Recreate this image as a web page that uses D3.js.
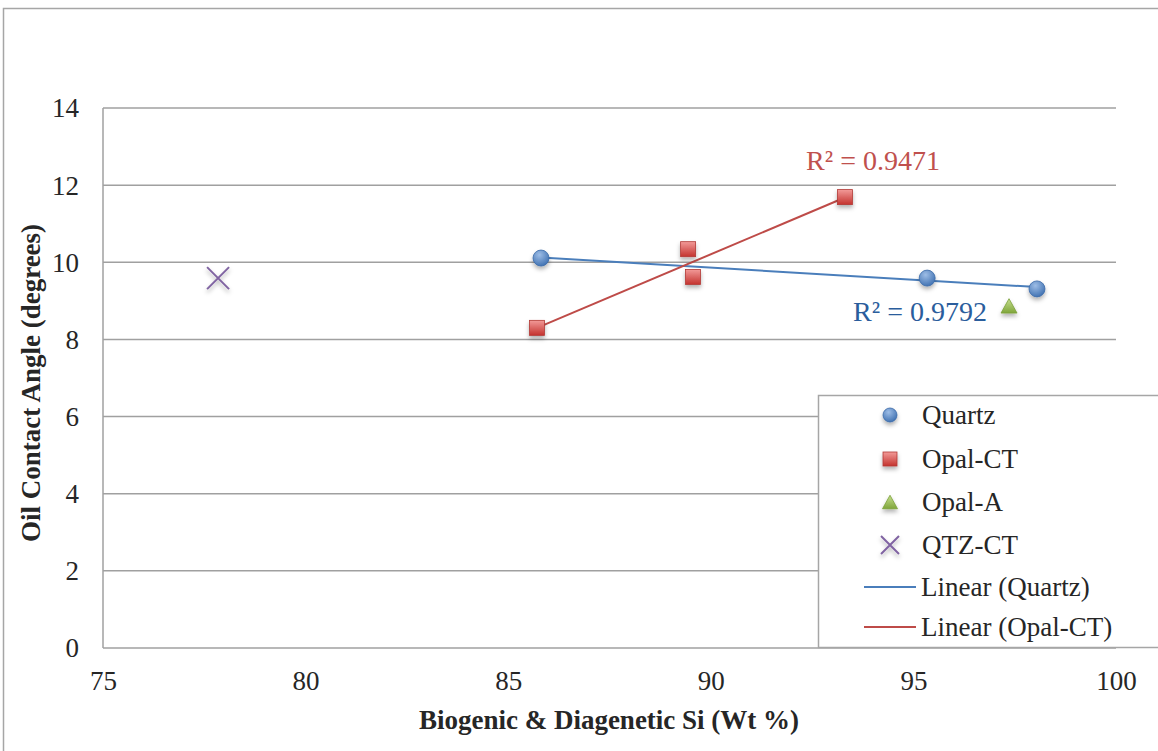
<!DOCTYPE html>
<html>
<head>
<meta charset="utf-8">
<script src="https://cdn.jsdelivr.net/npm/d3@7"></script>
<style>
  html, body { margin: 0; padding: 0; background: #fff; }
  svg { display: block; }
  text { font-family: "Liberation Serif", "DejaVu Serif", serif; }
</style>
</head>
<body>
<svg id="chart" width="1158" height="751"></svg>
<script>
// Silica content vs. oil contact angle, grouped by silica phase
const quartzX = [85.81, 95.34, 98.05];
const quartzY = [10.11, 9.59, 9.31];
const opalCTX = [85.71, 89.44, 89.56, 93.31];
const opalCTY = [8.30, 10.34, 9.62, 11.69];
const opalAX = [97.36];
const opalAY = [8.87];
const qtzCTX = [77.84];
const qtzCTY = [9.59];

const xTicks = [75, 80, 85, 90, 95, 100];
const yTicks = [0, 2, 4, 6, 8, 10, 12, 14];

const r2Quartz = "R² = 0.9792";
const r2OpalCT = "R² = 0.9471";

const legendLabels = ["Quartz", "Opal-CT", "Opal-A", "QTZ-CT", "Linear (Quartz)", "Linear (Opal-CT)"];

const svg = d3.select("#chart");

const plot = { left: 103, right: 1116, top: 108, bottom: 648 };
const x = d3.scaleLinear().domain([75, 100]).range([plot.left, plot.right]);
const y = d3.scaleLinear().domain([0, 14]).range([plot.bottom, plot.top]);

const colors = {
  quartz: "#4f81bd", opalCT: "#c0504d", opalA: "#9bbb59", qtzCT: "#8064a2",
  quartzLine: "#4a7ebb", opalLine: "#be4b48"
};
const textColor = "#262626";
const fs = 27;

// defs: gradients and soft drop shadow for markers
const defs = svg.append("defs");
const shadow = defs.append("filter").attr("id", "shadow")
  .attr("x", "-60%").attr("y", "-60%").attr("width", "220%").attr("height", "220%");
shadow.append("feDropShadow").attr("dx", 0).attr("dy", 3).attr("stdDeviation", 2)
  .attr("flood-color", "#000").attr("flood-opacity", 0.3);

function radial(id, light, dark) {
  const g = defs.append("radialGradient").attr("id", id)
    .attr("cx", "40%").attr("cy", "30%").attr("r", "75%");
  g.append("stop").attr("offset", "0%").attr("stop-color", light);
  g.append("stop").attr("offset", "100%").attr("stop-color", dark);
}
function linear(id, light, dark) {
  const g = defs.append("linearGradient").attr("id", id)
    .attr("x1", 0).attr("y1", 0).attr("x2", 0).attr("y2", 1);
  g.append("stop").attr("offset", "0%").attr("stop-color", light);
  g.append("stop").attr("offset", "100%").attr("stop-color", dark);
}
radial("gQuartz", "#9dbde6", "#3d6fb0");
linear("gOpal", "#f29a98", "#c4332f");
linear("gOpalA", "#c6df8e", "#7fa53a");

// outer chart frame
svg.append("rect")
  .attr("x", 3.5).attr("y", 8.5).attr("width", 1170).attr("height", 760)
  .attr("fill", "none").attr("stroke", "#a6a6a6").attr("stroke-width", 1.5);

// horizontal gridlines
svg.append("g").selectAll("line")
  .data(yTicks.filter(d => d > 0))
  .join("line")
  .attr("x1", plot.left).attr("x2", plot.right)
  .attr("y1", d => y(d)).attr("y2", d => y(d))
  .attr("stroke", "#a0a0a0").attr("stroke-width", 1.5);

// plot-area left edge and baseline
svg.append("line")
  .attr("x1", plot.left).attr("x2", plot.left)
  .attr("y1", plot.top).attr("y2", plot.bottom)
  .attr("stroke", "#a0a0a0").attr("stroke-width", 1.5);
svg.append("line")
  .attr("x1", plot.left).attr("x2", plot.right)
  .attr("y1", plot.bottom).attr("y2", plot.bottom)
  .attr("stroke", "#a0a0a0").attr("stroke-width", 1.5);

// axes (labels only)
const xAxis = svg.append("g")
  .attr("transform", `translate(0,${plot.bottom + 33})`)
  .call(d3.axisBottom(x).tickValues(xTicks).tickSize(0).tickPadding(0));
xAxis.select(".domain").remove();
xAxis.selectAll("text").attr("font-size", fs).attr("fill", textColor)
  .attr("font-family", "Liberation Serif").attr("dy", "0.33em");

const yAxis = svg.append("g")
  .attr("transform", `translate(${plot.left - 24},0)`)
  .call(d3.axisLeft(y).tickValues(yTicks).tickSize(0).tickPadding(0));
yAxis.select(".domain").remove();
yAxis.selectAll("text").attr("font-size", fs).attr("fill", textColor)
  .attr("font-family", "Liberation Serif").attr("dy", "0.33em");

// axis titles
svg.append("text")
  .attr("x", 609).attr("y", 729)
  .attr("text-anchor", "middle").attr("font-size", fs).attr("font-weight", "bold")
  .attr("fill", textColor)
  .text("Biogenic & Diagenetic Si (Wt %)");
svg.append("text")
  .attr("transform", `translate(40,383) rotate(-90)`)
  .attr("text-anchor", "middle").attr("font-size", fs).attr("font-weight", "bold")
  .attr("fill", textColor)
  .text("Oil Contact Angle (degrees)");

// least-squares trendline over the series' x-range
function fitLine(xs, ys) {
  const mx = d3.mean(xs), my = d3.mean(ys);
  const sxy = d3.sum(xs, (v, i) => (v - mx) * (ys[i] - my));
  const sxx = d3.sum(xs, v => (v - mx) * (v - mx));
  const b = sxy / sxx, a = my - b * mx;
  const [x0, x1] = d3.extent(xs);
  return [[x0, a + b * x0], [x1, a + b * x1]];
}
const lineGen = d3.line().x(d => x(d[0])).y(d => y(d[1]));

svg.append("path").datum(fitLine(quartzX, quartzY))
  .attr("d", lineGen).attr("fill", "none")
  .attr("stroke", colors.quartzLine).attr("stroke-width", 2);
svg.append("path").datum(fitLine(opalCTX, opalCTY))
  .attr("d", lineGen).attr("fill", "none")
  .attr("stroke", colors.opalLine).attr("stroke-width", 2);

// markers
const zip = (xs, ys) => xs.map((v, i) => [v, ys[i]]);
const markers = svg.append("g");

function drawCircle(g, cx, cy, r) {
  g.append("circle").attr("cx", cx).attr("cy", cy).attr("r", r)
    .attr("fill", "url(#gQuartz)").attr("stroke", "#3a6aa8").attr("stroke-width", 0.8)
    .attr("filter", "url(#shadow)");
}
function drawSquare(g, cx, cy, s) {
  g.append("rect").attr("x", cx - s / 2).attr("y", cy - s / 2)
    .attr("width", s).attr("height", s)
    .attr("fill", "url(#gOpal)").attr("stroke", "#b23a36").attr("stroke-width", 0.8)
    .attr("filter", "url(#shadow)");
}
function drawTriangle(g, cx, cy, s) {
  const h = s * 0.9;
  g.append("path")
    .attr("d", `M${cx},${cy - h / 2} L${cx + s / 2},${cy + h / 2} L${cx - s / 2},${cy + h / 2} Z`)
    .attr("fill", "url(#gOpalA)").attr("stroke", "#7a9f38").attr("stroke-width", 0.8)
    .attr("filter", "url(#shadow)");
}
function drawCross(g, cx, cy, s) {
  const h = s / 2;
  g.append("path")
    .attr("d", `M${cx - h},${cy - h} L${cx + h},${cy + h} M${cx - h},${cy + h} L${cx + h},${cy - h}`)
    .attr("stroke", colors.qtzCT).attr("stroke-width", 2).attr("fill", "none")
    .attr("filter", "url(#shadow)");
}

zip(quartzX, quartzY).forEach(d => drawCircle(markers, x(d[0]), y(d[1]), 8));
zip(opalCTX, opalCTY).forEach(d => drawSquare(markers, x(d[0]), y(d[1]), 15));
zip(opalAX, opalAY).forEach(d => drawTriangle(markers, x(d[0]), y(d[1]), 16));
zip(qtzCTX, qtzCTY).forEach(d => drawCross(markers, x(d[0]), y(d[1]), 22));

// R² annotations
svg.append("text").attr("x", 873).attr("y", 170).attr("text-anchor", "middle")
  .attr("font-size", 28).attr("fill", "#c0504d").text(r2OpalCT);
svg.append("text").attr("x", 920).attr("y", 321).attr("text-anchor", "middle")
  .attr("font-size", 28).attr("fill", "#2a5d9c").text(r2Quartz);

// legend
const lg = svg.append("g");
lg.append("rect").attr("x", 818.5).attr("y", 395.5).attr("width", 360).attr("height", 252)
  .attr("fill", "#fff").attr("stroke", "#a6a6a6").attr("stroke-width", 1.5);

const legendY = [415, 459, 502, 545, 587, 627];
const mx = 890, tx = 922;
drawCircle(lg, mx, legendY[0], 7);
drawSquare(lg, mx, legendY[1], 14);
drawTriangle(lg, mx, legendY[2], 15);
drawCross(lg, mx, legendY[3], 18);
lg.append("line").attr("x1", 864).attr("x2", 916).attr("y1", legendY[4]).attr("y2", legendY[4])
  .attr("stroke", colors.quartzLine).attr("stroke-width", 2);
lg.append("line").attr("x1", 864).attr("x2", 916).attr("y1", legendY[5]).attr("y2", legendY[5])
  .attr("stroke", colors.opalLine).attr("stroke-width", 2);

lg.selectAll("text.lbl").data(legendLabels).join("text")
  .attr("class", "lbl")
  .attr("x", (d, i) => i >= 4 ? 921 : tx)
  .attr("y", (d, i) => legendY[i]).attr("dy", "0.35em")
  .attr("font-size", fs).attr("fill", textColor)
  .text(d => d);
</script>
</body>
</html>
